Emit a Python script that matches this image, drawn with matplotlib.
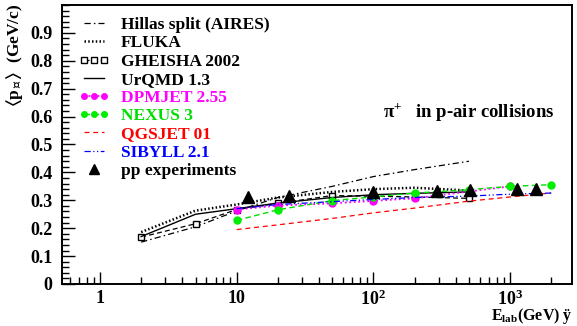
import matplotlib
matplotlib.use("Agg")
import matplotlib.pyplot as plt
from matplotlib.legend_handler import HandlerLine2D
from matplotlib.ticker import FixedLocator, NullFormatter, MultipleLocator

plt.rcParams['font.family'] = ['Liberation Serif', 'DejaVu Serif']
plt.rcParams['font.weight'] = 'bold'
plt.rcParams['mathtext.fontset'] = 'custom'
plt.rcParams['mathtext.rm'] = 'Liberation Serif:bold'
plt.rcParams['mathtext.bf'] = 'Liberation Serif:bold'
plt.rcParams['mathtext.it'] = 'Liberation Serif:bold:italic'
plt.rcParams['mathtext.fallback'] = 'stix'

# ---- data ----
hillas_E = [2, 5, 10, 20, 50, 100, 200, 500]
hillas_pt = [0.150, 0.205, 0.262, 0.310, 0.350, 0.385, 0.410, 0.440]

fluka_E = [2, 5, 10, 20, 50, 100, 200, 500]
fluka_pt = [0.186, 0.263, 0.285, 0.310, 0.330, 0.340, 0.345, 0.335]

gheisha_E = [2, 5, 10, 20, 50, 200, 500]
gheisha_pt = [0.168, 0.216, 0.267, 0.289, 0.317, 0.312, 0.307]

urqmd_E = [2, 5, 10, 20, 50, 100, 200, 500]
urqmd_pt = [0.170, 0.250, 0.270, 0.290, 0.310, 0.320, 0.325, 0.330]

dpmjet_E = [10, 20, 50, 100, 200, 1000]
dpmjet_pt = [0.267, 0.281, 0.289, 0.298, 0.307, 0.350]

nexus_E = [10, 20, 50, 100, 200, 500, 1000, 2000]
nexus_pt = [0.228, 0.266, 0.299, 0.312, 0.326, 0.338, 0.350, 0.356]

qgsjet_E = [10, 20, 50, 100, 200, 500, 1000, 2000]
qgsjet_pt = [0.195, 0.212, 0.235, 0.255, 0.272, 0.297, 0.312, 0.326]

sibyll_E = [10, 20, 50, 100, 200, 500, 1000, 2000]
sibyll_pt = [0.270, 0.285, 0.295, 0.303, 0.310, 0.315, 0.322, 0.326]

pp_E = [12, 24, 100, 290, 510, 1130, 1540]
pp_pt = [0.311, 0.317, 0.329, 0.335, 0.338, 0.340, 0.340]

legend_labels = ["Hillas split (AIRES)", "FLUKA", "GHEISHA 2002", "UrQMD 1.3",
                 "DPMJET 2.55", "NEXUS 3", "QGSJET 01", "SIBYLL 2.1", "pp experiments"]
legend_colors = ["black", "black", "black", "black", "#ff00ff", "#00dd00",
                 "#ff0000", "#0000ff", "black"]

fig = plt.figure(figsize=(5.77, 3.26), dpi=100)
ax = fig.add_axes([62/577, 1-284/326, (572-62)/577, (284-5)/326])

h1, = ax.plot(hillas_E, hillas_pt, color='black', lw=0.9, ls=(0, (5, 2.5, 1.2, 2.5)))
h2, = ax.plot(fluka_E, fluka_pt, color='black', lw=1.8, ls=(0, (0.6, 0.9)))
h3, = ax.plot(gheisha_E, gheisha_pt, color='black', lw=0.9, ls=(0, (4, 2.5)),
              marker='s', ms=5, mfc='white', mec='black', mew=1.0)
h4, = ax.plot(urqmd_E, urqmd_pt, color='black', lw=1.0, ls='-')
h5, = ax.plot(dpmjet_E, dpmjet_pt, color='#ff00ff', lw=1.3, ls=(0, (1, 1.5)),
              marker='o', ms=5, mfc='#ff00ff', mec='#ff00ff')
h6, = ax.plot(nexus_E, nexus_pt, color='#00dd00', lw=1.0, ls=(0, (4, 2.5)),
              marker='o', ms=5, mfc='#00ee00', mec='#00ee00')
h7, = ax.plot(qgsjet_E, qgsjet_pt, color='#ff0000', lw=0.9, ls=(0, (4, 3)))
h8, = ax.plot(sibyll_E, sibyll_pt, color='#0000ff', lw=0.9,
              ls=(0, (5, 2, 1, 2, 1, 2)))
h9, = ax.plot(pp_E, pp_pt, ls='none', marker='^', ms=8.5, color='black')

ax.set_xscale('log')
ax.set_xlim(0.527, 2840)
ax.set_ylim(0, 1.0)

ax.xaxis.set_major_locator(FixedLocator([1, 10, 100, 1000]))
minors = [m * 10.0**d for d in range(-1, 4) for m in range(2, 10)]
ax.xaxis.set_minor_locator(FixedLocator(minors))
ax.xaxis.set_minor_formatter(NullFormatter())
ax.set_xticklabels(['1', '10', r'$\mathbf{10^{2}}$', r'$\mathbf{10^{3}}$'])
ax.yaxis.set_minor_locator(MultipleLocator(0.02))
ax.set_yticks([0, 0.1, 0.2, 0.3, 0.4, 0.5, 0.6, 0.7, 0.8, 0.9])
ax.set_yticklabels(['0', '0.1', '0.2', '0.3', '0.4', '0.5', '0.6', '0.7', '0.8', '0.9'])

ax.tick_params(axis='both', which='both', direction='in', top=False, right=False)
ax.tick_params(axis='both', which='major', length=9, width=1.0, labelsize=13)
ax.tick_params(axis='both', which='minor', length=5, width=1.0)
ax.tick_params(axis='y', which='major', pad=7)
ax.tick_params(axis='x', which='major', pad=4)
for s in ax.spines.values():
    s.set_linewidth(1.4)

leg = ax.legend([h1, h2, h3, h4, h5, h6, h7, h8, h9], legend_labels,
                loc='upper left', bbox_to_anchor=(79/577, 1-17/326),
                bbox_transform=fig.transFigure, frameon=False,
                numpoints=3, markerscale=0.8, handlelength=1.75, handletextpad=0.65,
                labelspacing=0.12, borderpad=0, borderaxespad=0,
                prop={'family': 'Liberation Serif', 'weight': 'bold', 'size': 12.5},
                handler_map={h9: HandlerLine2D(numpoints=1)})
for t, c in zip(leg.get_texts(), legend_colors):
    t.set_color(c)

fig.text(383/577, 1-112/326, r'$\mathrm{\pi}^{+}$   in p-air collisions', fontsize=13.5,
         fontweight='bold', va='center', ha='left')

fig.text(15/577, 1-55/326, r'$\langle\mathbf{p}_{\perp}\rangle$  (GeV/c)',
         rotation=90, fontsize=12.5, fontweight='bold', va='center', ha='center')
fig.text(573/577, 1-316.5/326, r'$\mathbf{E_{lab}}$(GeV) ÿ', fontsize=11.5,
         fontweight='bold', va='center', ha='right')

fig.savefig('out.png', dpi=100)
